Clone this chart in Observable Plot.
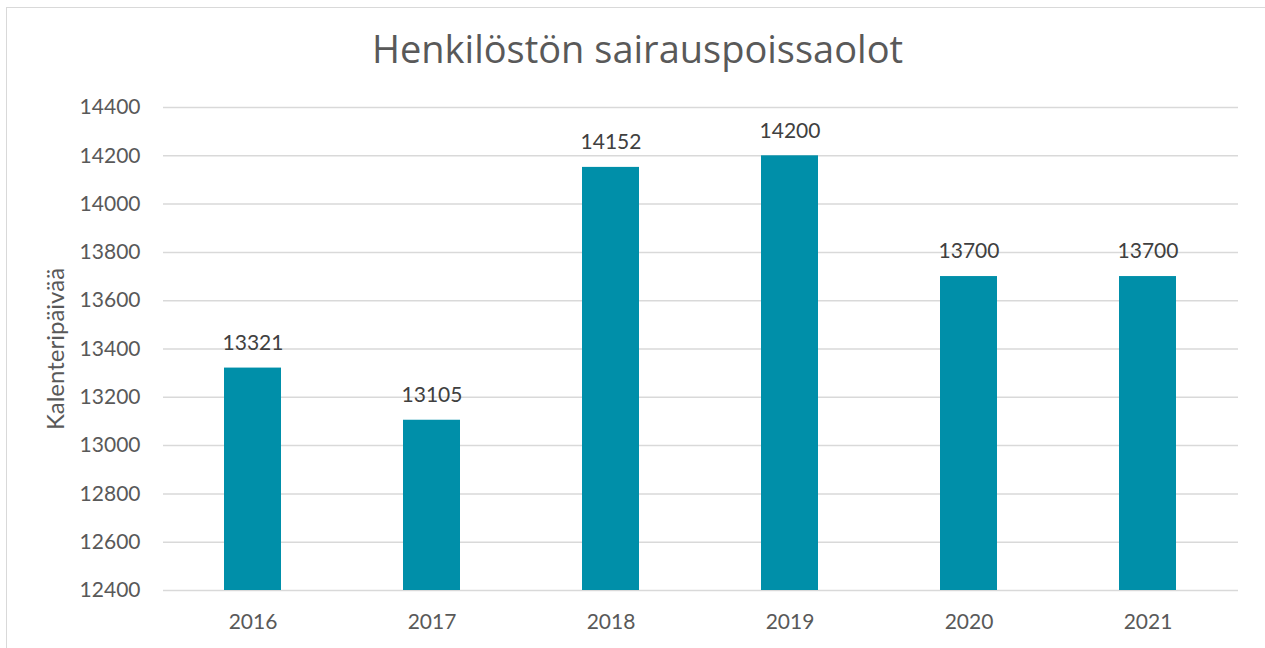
<!DOCTYPE html>
<html>
<head>
<meta charset="utf-8">
<script src="https://cdn.jsdelivr.net/npm/d3@7"></script>
<script src="https://cdn.jsdelivr.net/npm/@observablehq/plot@0.6"></script>
<style>
  html, body { margin: 0; padding: 0; background: #fff; overflow: hidden; }
  #frame { position: absolute; left: 6px; top: 7px; width: 1300px; height: 700px; border: 1px solid #d9d9d9; box-sizing: border-box; }
  #title { position: absolute; left: 0; width: 1275px; top: 25px; text-align: center; font-family: "Open Sans", sans-serif; font-weight: 400; font-size: 38px; color: #595959; line-height: 47px; }
  #chart { position: absolute; left: 0; top: 0; }
</style>
</head>
<body>
<div id="frame"></div>
<div id="chart"></div>
<div id="title">Henkilöstön sairauspoissaolot</div>
<script>
const years = ["2016", "2017", "2018", "2019", "2020", "2021"];
const values = [13321, 13105, 14152, 14200, 13700, 13700];
const yTicks = [12400, 12600, 12800, 13000, 13200, 13400, 13600, 13800, 14000, 14200, 14400];
const yLabel = "Kalenteripäivää";

const data = years.map((y, i) => ({year: y, value: values[i]}));
const base = yTicks[0];

const plot = Plot.plot({
  width: 1265,
  height: 648,
  marginLeft: 163,
  marginRight: 27,
  marginTop: 107,
  marginBottom: 58,
  style: {fontFamily: "Lato, sans-serif", fontSize: "21px", color: "#595959", background: "transparent"},
  x: {domain: years, paddingInner: 0.68, paddingOuter: 0.34, label: null},
  y: {domain: [yTicks[0], yTicks[yTicks.length - 1]], label: null},
  marks: [
    Plot.gridY(yTicks, {stroke: "#d9d9d9", strokeOpacity: 1, strokeWidth: 1.5}),
    Plot.barY(data, {x: "year", y1: () => base, y2: "value", fill: "#008FA9"}),
    Plot.text(data, {x: "year", y: "value", text: d => String(d.value), dy: -25, lineAnchor: "middle", fill: "#404040", fontSize: 21}),
    Plot.axisY(yTicks, {tickSize: 0, tickPadding: 23, tickFormat: d => String(d), fill: "#595959", fontSize: 21}),
    Plot.axisX({tickSize: 0, tickPadding: 24, fill: "#595959", fontSize: 21}),
    Plot.text([yLabel], {frameAnchor: "left", textAnchor: "middle", dx: -107, rotate: -90, fill: "#595959", fontSize: 24})
  ]
});
document.getElementById("chart").appendChild(plot);
</script>
</body>
</html>
